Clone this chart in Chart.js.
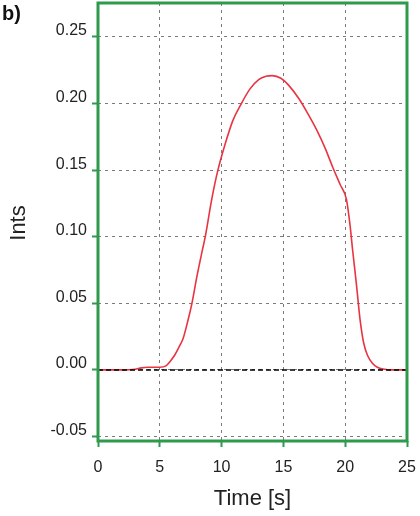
<!DOCTYPE html>
<html><head><meta charset="utf-8">
<style>html,body{margin:0;padding:0;background:#fff}#wrap{width:420px;height:516px;position:relative}</style>
<script src="https://cdn.jsdelivr.net/npm/chart.js@4/dist/chart.umd.min.js"></script>
</head><body><div id="wrap"><canvas id="c" width="420" height="516"></canvas></div>
<script>
const timeS = [0, 1, 2, 3, 3.5, 4, 5, 5.5, 5.8, 6.2, 6.6, 6.9, 7.3, 7.6, 8.0, 8.4, 8.7, 9.2, 9.7, 10.3, 10.9, 11.6, 12.3, 13.0, 13.6, 14.1, 14.8, 15.4, 16.3, 17.0, 17.7, 18.4, 19.0, 19.6, 20.1, 20.4, 20.6, 20.9, 21.2, 21.5, 21.8, 22.2, 22.6, 23.2, 23.6, 24, 25];
const ints  = [0, 0, 0, 0.0005, 0.0015, 0.002, 0.002, 0.003, 0.006, 0.011, 0.018, 0.024, 0.038, 0.050, 0.070, 0.088, 0.101, 0.128, 0.150, 0.170, 0.187, 0.200, 0.211, 0.218, 0.2205, 0.221, 0.219, 0.214, 0.203, 0.192, 0.180, 0.166, 0.152, 0.139, 0.128, 0.108, 0.090, 0.065, 0.038, 0.020, 0.011, 0.005, 0.002, 0.0005, 0, 0, 0];
const baselineTime = [0, 25];
const baselineInts = [0, 0];
const xTicks = [0, 5, 10, 15, 20, 25];
const yTicks = [-0.05, 0.00, 0.05, 0.10, 0.15, 0.20, 0.25];
const panelLabel = 'b)';
const xTitle = 'Time [s]';
const yTitle = 'Ints';

const GREEN = '#2f9a4c';
const GRID = '#7a7a7a';
const FONT = '"Liberation Sans", Arial, sans-serif';

const framePlugin = {
  id: 'frame',
  afterDraw(chart) {
    const {ctx, chartArea: a} = chart;
    ctx.save();
    ctx.strokeStyle = GREEN;
    ctx.lineWidth = 3;
    ctx.setLineDash([]);
    ctx.strokeRect(a.left, a.top, a.right - a.left, a.bottom - a.top);
    ctx.fillStyle = '#111';
    ctx.font = 'bold 20px ' + FONT;
    ctx.textAlign = 'left';
    ctx.textBaseline = 'alphabetic';
    ctx.fillText(panelLabel, 2, 20);
    ctx.fillStyle = '#222';
    ctx.font = '22px ' + FONT;
    ctx.textAlign = 'center';
    ctx.fillText(xTitle, (a.left + a.right) / 2, 505);
    ctx.translate(25, (a.top + a.bottom) / 2 + 1);
    ctx.rotate(-Math.PI / 2);
    ctx.fillText(yTitle, 0, 0);
    ctx.restore();
  }
};

function zeroPad(s) { s.paddingTop = 0; s.paddingBottom = 0; s.paddingLeft = 0; s.paddingRight = 0; }

new Chart(document.getElementById('c'), {
  type: 'line',
  data: {
    datasets: [
      {
        data: baselineTime.map((t, i) => ({x: t, y: baselineInts[i]})),
        borderColor: '#000',
        borderWidth: 1.5,
        borderDash: [5, 3],
        pointRadius: 0,
        fill: false
      },
      {
        data: timeS.map((t, i) => ({x: t, y: ints[i]})),
        borderColor: 'rgb(232,52,66)',
        borderWidth: 1.6,
        pointRadius: 0,
        cubicInterpolationMode: 'monotone',
        fill: false
      }
    ]
  },
  options: {
    responsive: false,
    animation: false,
    devicePixelRatio: 1,
    layout: {padding: {top: 3, right: 13, left: 0, bottom: 0}},
    plugins: {legend: {display: false}, tooltip: {enabled: false}},
    scales: {
      x: {
        type: 'linear', min: 0, max: 25,
        afterBuildTicks: s => { s.ticks = xTicks.map(v => ({value: v})); },
        afterFit: s => { s.height = 75; zeroPad(s); },
        grid: {color: GRID, lineWidth: 1, tickLength: 6, tickColor: GREEN, tickWidth: 2},
        border: {display: false, dash: [3, 4]},
        ticks: {font: {size: 16, family: FONT}, color: '#222', padding: 11, maxRotation: 0, autoSkip: false,
                callback: v => String(v)}
      },
      y: {
        type: 'linear', min: -0.0534, max: 0.2755,
        afterBuildTicks: s => { s.ticks = yTicks.map(v => ({value: v})); },
        afterFit: s => { s.width = 98; zeroPad(s); },
        grid: {color: GRID, lineWidth: 1, tickLength: 6, tickColor: GREEN, tickWidth: 2},
        border: {display: false, dash: [3, 4]},
        ticks: {font: {size: 16, family: FONT}, color: '#222', padding: 5, labelOffset: -6, autoSkip: false,
                callback: v => Number(v).toFixed(2)}
      }
    }
  },
  plugins: [framePlugin]
});
</script>
</body></html>
